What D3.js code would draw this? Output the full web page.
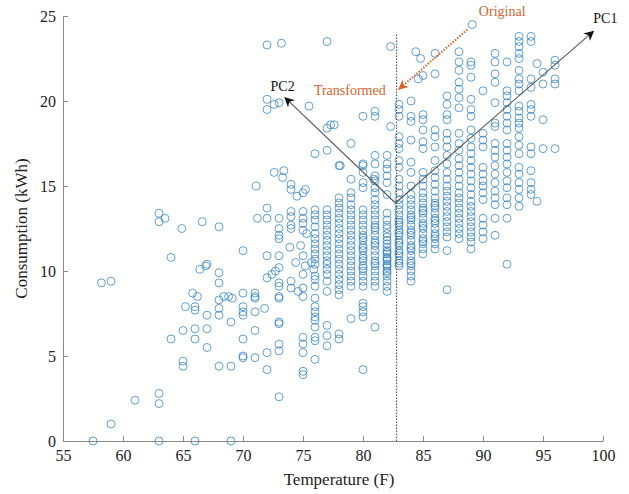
<!DOCTYPE html>
<html lang="en">
<head>
<meta charset="utf-8">
<title>Temperature vs consumption</title>
<script src="https://cdn.jsdelivr.net/npm/d3@7"></script>
<style>
  body { margin: 0; background: #fff; }
  text { font-family: "Liberation Serif", "DejaVu Serif", serif; }
</style>
</head>
<body>
<div id="chart"></div>
<script>
// scattered points (temperature, consumption)
const loosePoints = [
  [57.5,0],[58.2,9.3],[59,9.4],[59,1.0],[61,2.4],[63,2.8],[63,2.2],[63,0],
  [63,13.4],[63,12.9],[63.5,13.1],[64,10.8],[64,6.0],[64.9,12.5],[65,6.5],[65,4.7],[65,4.4],[65.2,7.9],[65.8,8.7],
  [66,0],[66,7.9],[66,7.7],[66.2,8.5],[66,6.6],[66,6.0],[66.4,10.1],[66.9,10.3],[67,10.4],[66.6,12.9],[67,7.4],[67,6.6],[67,5.5],
  [68,12.6],[68,9.9],[68,9.3],[68,8.3],[68,7.8],[68,7.4],[68,4.4],[68.4,8.5],[68.8,8.5],[69.1,8.4],[69,7.0],[69,4.4],[69,0],
  [70,11.2],[70,8.7],[70,7.9],[70,7.6],[70,7.4],[70,6.0],[70,5.0],[70,4.9],
  [71.1,15.0],[71.2,13.1],[71,8.7],[71,8.5],[71,8.4],[71,7.6],[71,6.5],[71,4.9],[71.8,7.8],
  [72,23.3],[72,20.1],[72,19.5],[72.6,19.8],[73,19.9],[73.2,23.4],[72,13.7],[72,13.1],[72,10.9],[72,9.6],[72,5.2],[72,4.2],[72.4,9.8],[72.7,10.0],
  [72.6,15.8],[73.4,15.9],[73.3,15.5],
  [73,13.1],[73,12.5],[73,12.1],[73,11.9],[73,10.9],[73,10.2],[73,9.3],[73,9.1],[73,8.5],[73,8.4],[73,7.0],[73,6.9],[73,5.7],[73,5.3],[73,2.6],
  [74,15.1],[74,14.8],[74.5,14.4],[74,13.5],[74,13.2],[74,12.7],[74,12.5],[73.9,11.4],[74.4,10.5],[74,9.4],[74,9.0],[74.6,8.8],
  [75,14.6],[75.2,14.8],[75,13.5],[75,13.1],[75,12.8],[75,12.4],[75.3,12.2],[74.8,11.5],[75,10.9],[75.2,10.3],[75,9.8],[75,9.0],[75,8.5],
  [75,6.1],[75,5.7],[75,5.2],[75,4.1],[75,3.9],[75.5,19.7],[75.7,10.5],[75.9,10.1],
  [77.3,18.6],[77.6,18.6],[80,19.1],[81,19.4],[81,19.1],[82.3,18.5],[79,17.5],[81,16.8],[78.1,16.2],[80,16.2],[80,15.8],[80.9,15.4],
  [82.3,23.2],[84.4,22.9],[84.8,22.5],[84.6,21.3],[84,20.0],[89.1,24.5],[94.5,22.2],[94.5,14.1]
];

// dense columns: one temperature, many consumption readings
const columnTemps = [76, 77, 78, 79, 80, 81, 82, 83, 84, 85, 86, 87, 88, 89, 90, 91, 92, 93, 94, 95, 96];
const columnValues = [
  [16.9,13.6,13.3,13.0,12.6,12.2,11.9,11.6,11.3,11.0,10.7,10.4,9.7,9.5,9.1,8.4,7.9,7.6,7.3,7.1,6.7,6.1,5.9,4.8],
  [23.5,18.4,17.1,13.6,13.3,13.0,12.7,12.4,12.1,11.8,11.5,11.2,10.9,10.6,10.4,10.1,9.8,9.4,8.8,6.8,6.2,5.6],
  [16.2,14.3,14.0,13.7,13.4,13.1,12.8,12.5,12.2,11.9,11.6,11.3,11.0,10.7,10.4,10.1,9.8,9.5,9.2,8.9,8.6,6.3,6.0],
  [15.4,14.6,14.3,13.9,13.6,13.3,13.0,12.7,12.4,12.1,11.8,11.5,11.2,10.9,10.6,10.3,10.0,9.7,9.4,9.1,7.2],
  [16.3,15.2,14.9,13.6,13.3,13.0,12.7,12.4,12.1,11.95,11.8,11.5,11.35,11.2,10.9,10.75,10.6,10.3,10.15,10.0,9.7,9.4,9.1,8.1,7.9,7.6,7.3,4.2],
  [16.3,15.6,15.3,14.9,14.6,14.2,13.9,13.6,13.3,13.0,12.7,12.55,12.4,12.1,11.8,11.65,11.5,11.2,10.9,10.6,10.45,10.3,10.0,9.7,9.4,9.1,6.7],
  [16.8,16.3,16.0,15.6,15.2,14.5,13.4,13.0,12.7,12.5,12.2,12.0,11.8,11.6,11.4,11.2,11.1,11.0,10.8,10.7,10.6,10.4,10.3,10.2,10.0,9.9,9.7,9.4,9.1,8.8],
  [19.8,19.5,19.1,17.9,17.5,17.2,16.5,16.1,15.4,15.0,14.6,14.2,13.9,13.6,13.3,13.0,12.85,12.7,12.4,12.25,12.1,11.8,11.65,11.5,11.2,11.05,10.9,10.6,10.45,10.3],
  [19.1,18.8,17.7,16.4,15.8,15.0,14.5,14.2,13.9,13.6,13.3,13.15,13.0,12.7,12.4,12.25,12.1,11.8,11.5,11.35,11.2,10.9,10.6,10.45,10.3,10.0,9.7,9.4],
  [21.5,19.2,18.9,18.3,17.6,17.2,15.8,15.4,15.0,14.6,14.3,14.0,13.7,13.55,13.4,13.1,12.8,12.65,12.5,12.2,11.9,11.75,11.6,11.3,11.0],
  [22.8,21.6,18.3,17.9,17.3,16.5,15.9,15.5,15.1,14.7,14.3,14.0,13.85,13.7,13.4,13.1,12.95,12.8,12.5,12.2,12.05,11.9,11.6,11.3],
  [20.3,19.8,19.2,18.9,18.1,17.7,17.3,16.8,16.3,15.8,15.4,15.0,14.7,14.4,14.1,13.8,13.5,13.2,12.9,12.6,12.3,12.0,11.2,8.9],
  [22.9,22.3,21.8,21.1,20.7,20.2,19.6,18.1,17.5,17.1,16.6,16.2,15.8,15.4,15.0,14.6,14.3,14.0,13.7,13.4,13.1,12.8,12.5,12.2,11.9],
  [22.3,22.1,21.4,20.1,19.5,19.1,18.3,17.8,17.3,16.9,16.5,16.1,15.7,15.3,14.9,14.5,14.1,13.8,13.5,13.2,12.9,12.6,12.3,12.0,11.7,11.3],
  [20.6,18.1,17.7,17.3,16.1,15.7,15.3,15.0,14.6,14.2,13.1,12.7,12.3,11.9],
  [22.8,22.3,21.6,21.1,19.9,18.7,18.5,17.5,17.1,16.7,16.2,15.7,15.2,14.7,14.3,13.9,13.1,12.1],
  [22.3,20.6,20.3,19.9,19.5,19.1,18.7,18.3,17.5,17.1,16.7,16.3,15.8,15.3,14.9,14.3,13.9,13.1,10.4],
  [23.8,23.5,23.2,22.8,22.5,21.8,21.3,21.0,20.6,19.7,19.4,19.0,18.7,18.4,17.9,17.4,16.9,16.1,15.7,15.2,14.8,14.3,13.8],
  [23.8,23.5,21.3,20.8,19.8,19.5,19.1,17.3,16.9,15.9,15.2,14.8,14.5],
  [21.7,21.0,18.9,17.2],
  [22.4,22.1,21.3,21.0,17.2]
];

const xTicks = [55, 60, 65, 70, 75, 80, 85, 90, 95, 100];
const yTicks = [0, 5, 10, 15, 20, 25];

// annotation anchors, in data units
const splitTemp = 82.8;
const splitTop = 23.9;
const pcOrigin = [82.7, 14.0];
const pc1End = [99.2, 24.1];
const pc2End = [73.5, 20.2];
const originalStart = [88.7, 24.2];
const transformedEnd = [83.0, 20.7];
const labels = [
  {text: "PC1", pos: [100.2, 24.6], color: "#111"},
  {text: "PC2", pos: [73.3, 20.6], color: "#111"},
  {text: "Original", pos: [91.6, 25.0], color: "#d9622b"},
  {text: "Transformed", pos: [78.9, 20.35], color: "#d9622b"}
];

const W = 629, H = 494;
const margin = {top: 16, right: 26, bottom: 53, left: 63};
const width = W - margin.left - margin.right;
const height = H - margin.top - margin.bottom;

const svg = d3.select("#chart").append("svg")
  .attr("width", W)
  .attr("height", H)
  .style("background", "#fff");

const g = svg.append("g").attr("transform", `translate(${margin.left},${margin.top})`);

const x = d3.scaleLinear().domain([55, 100]).range([0, width]);
const y = d3.scaleLinear().domain([0, 25]).range([height, 0]);

// flatten columns + loose points
let points = loosePoints.map(p => ({t: p[0], c: p[1]}));
columnTemps.forEach((t, i) => {
  columnValues[i].forEach(c => points.push({t: t, c: c}));
});

// axes
const xAxis = g.append("g")
  .attr("transform", `translate(0,${height})`)
  .call(d3.axisBottom(x).tickValues(xTicks).tickSizeInner(-5).tickSizeOuter(0).tickPadding(9));
const yAxis = g.append("g")
  .call(d3.axisLeft(y).tickValues(yTicks).tickSizeInner(-5).tickSizeOuter(0).tickPadding(7));

[xAxis, yAxis].forEach(a => {
  a.select(".domain").attr("stroke", "#8a8a8a");
  a.selectAll(".tick line").attr("stroke", "#8a8a8a");
  a.selectAll(".tick text")
    .attr("fill", "#222")
    .style("font-size", "16px")
    .style("font-family", "'Liberation Serif', serif");
});

// scatter
g.append("g").selectAll("circle")
  .data(points)
  .enter().append("circle")
  .attr("cx", d => x(d.t))
  .attr("cy", d => y(d.c))
  .attr("r", 4)
  .attr("fill", "none")
  .attr("stroke", "#2f80c0")
  .attr("stroke-opacity", 0.75)
  .attr("stroke-width", 1);

// arrow heads
const defs = svg.append("defs");
function marker(id, color) {
  defs.append("marker")
    .attr("id", id)
    .attr("viewBox", "0 0 10 10")
    .attr("refX", 9).attr("refY", 5)
    .attr("markerWidth", 10).attr("markerHeight", 10)
    .attr("markerUnits", "userSpaceOnUse")
    .attr("orient", "auto")
    .append("path")
    .attr("d", "M0,0 L10,5 L0,10 L3,5 Z")
    .attr("fill", color);
}
marker("headBlack", "#111");
marker("headOrange", "#d9622b");

// dotted split line
g.append("line")
  .attr("x1", x(splitTemp)).attr("x2", x(splitTemp))
  .attr("y1", y(0)).attr("y2", y(splitTop))
  .attr("stroke", "#444")
  .attr("stroke-width", 1)
  .attr("stroke-dasharray", "1.5,1.5");

// principal component arrows
[pc1End, pc2End].forEach(e => {
  g.append("line")
    .attr("x1", x(pcOrigin[0])).attr("y1", y(pcOrigin[1]))
    .attr("x2", x(e[0])).attr("y2", y(e[1]))
    .attr("stroke", "#555")
    .attr("stroke-width", 1.1)
    .attr("marker-end", "url(#headBlack)");
});

// original -> transformed
g.append("line")
  .attr("x1", x(originalStart[0])).attr("y1", y(originalStart[1]))
  .attr("x2", x(transformedEnd[0])).attr("y2", y(transformedEnd[1]))
  .attr("stroke", "#d9622b")
  .attr("stroke-width", 2)
  .attr("stroke-dasharray", "1.5,1.5")
  .attr("marker-end", "url(#headOrange)");

g.selectAll(".note")
  .data(labels)
  .enter().append("text")
  .attr("class", "note")
  .attr("x", d => x(d.pos[0]))
  .attr("y", d => y(d.pos[1]))
  .attr("text-anchor", "middle")
  .attr("fill", d => d.color)
  .style("font-size", "14px")
  .text(d => d.text);

// axis titles
g.append("text")
  .attr("x", width / 2 + 6)
  .attr("y", height + 44)
  .attr("text-anchor", "middle")
  .attr("fill", "#222")
  .style("font-size", "17px")
  .text("Temperature (F)");

g.append("text")
  .attr("transform", `translate(${-margin.left + 27},${height / 2}) rotate(-90)`)
  .attr("text-anchor", "middle")
  .attr("fill", "#222")
  .style("font-size", "17px")
  .text("Consumption (kWh)");
</script>
</body>
</html>
